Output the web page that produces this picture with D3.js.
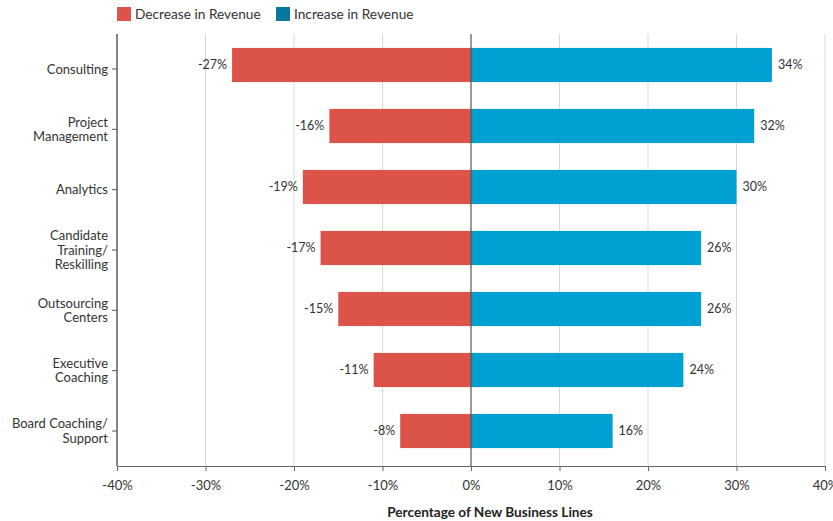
<!DOCTYPE html>
<html><head><meta charset="utf-8">
<script src="https://cdn.jsdelivr.net/npm/d3@7"></script>
<style>body{margin:0;background:#fff;} svg{display:block;font-family:Lato,"Open Sans",sans-serif;}</style>
</head><body><svg id="c" width="833" height="521"></svg>
<script>
const categories = [["Consulting"],["Project","Management"],["Analytics"],["Candidate","Training/","Reskilling"],["Outsourcing","Centers"],["Executive","Coaching"],["Board Coaching/","Support"]];
const decrease = [-27,-16,-19,-17,-15,-11,-8];
const increase = [34,32,30,26,26,24,16];
const xTicks = [-40,-30,-20,-10,0,10,20,30,40];
const seriesNames = ["Decrease in Revenue","Increase in Revenue"];
const barColors = ["#dc5349","#00a0d2"];
const legendColors = ["#dc5349","#0a779d"];

const svg = d3.select("#c");
const x = d3.scaleLinear().domain([-40,40]).range([117,825]);
const y = d3.scaleBand().domain(d3.range(categories.length)).range([34.5,461.5]).paddingInner(0.44).paddingOuter(0.22);
const yLab = d3.scalePoint().domain(d3.range(categories.length)).range([69,431]);
const axisY = 466, plotTop = 34;

// gridlines
svg.append("g").selectAll("line").data(xTicks.filter(d=>d!==0 && d!==-40)).join("line")
  .attr("x1",d=>x(d)).attr("x2",d=>x(d)).attr("y1",plotTop).attr("y2",axisY)
  .attr("stroke","#d9d9d9").attr("stroke-width",1);

// bars
svg.append("g").selectAll("rect").data(decrease).join("rect")
  .attr("x",d=>x(d)).attr("width",d=>x(0)-x(d)).attr("y",(d,i)=>y(i)).attr("height",y.bandwidth())
  .attr("fill",barColors[0]);
svg.append("g").selectAll("rect").data(increase).join("rect")
  .attr("x",x(0)).attr("width",d=>x(d)-x(0)).attr("y",(d,i)=>y(i)).attr("height",y.bandwidth())
  .attr("fill",barColors[1]);

// value labels
svg.append("g").selectAll("text").data(decrease).join("text")
  .attr("x",d=>x(d)-5).attr("y",(d,i)=>y(i)+y.bandwidth()/2).attr("dy","0.35em")
  .attr("text-anchor","end").attr("font-size",12.5).attr("fill","#333").text(d=>d+"%");
svg.append("g").selectAll("text").data(increase).join("text")
  .attr("x",d=>x(d)+6).attr("y",(d,i)=>y(i)+y.bandwidth()/2).attr("dy","0.35em")
  .attr("text-anchor","start").attr("font-size",12.5).attr("fill","#333").text(d=>d+"%");

// zero line
svg.append("line").attr("x1",x(0)).attr("x2",x(0)).attr("y1",plotTop).attr("y2",axisY).attr("stroke","#555").attr("stroke-width",1.2);

// x axis
const xa = svg.append("g").attr("transform",`translate(0,${axisY})`)
  .call(d3.axisBottom(x).tickValues(xTicks).tickSize(5).tickFormat(d=>d+"%"));
xa.select(".domain").attr("stroke","#666");
xa.selectAll(".tick line").attr("stroke","#666");
xa.selectAll("text").attr("font-size",13).attr("fill","#333").attr("dy","1.2em").attr("font-family","Lato,'Open Sans',sans-serif");

// y axis
const ya = svg.append("g").attr("transform",`translate(${x(-40)},0)`);
ya.append("line").attr("x1",0).attr("x2",0).attr("y1",plotTop).attr("y2",axisY).attr("stroke","#333").attr("stroke-width",1.2);
const yt = ya.selectAll("g").data(categories).join("g").attr("transform",(d,i)=>`translate(0,${yLab(i)})`);
yt.append("line").attr("x1",-5).attr("x2",0).attr("stroke","#555");
yt.append("text").attr("text-anchor","end").attr("font-size",13).attr("fill","#333")
  .each(function(d){
    const t = d3.select(this); const n = d.length; const lh = 14.5;
    d.forEach((s,k)=>t.append("tspan").attr("x",-9).attr("y",(k-(n-1)/2)*lh).attr("dy","0.35em").text(s));
  });

// axis title
svg.append("text").attr("x",490).attr("y",517).attr("text-anchor","middle").attr("font-size",13.6)
  .attr("font-weight","bold").attr("fill","#222").text("Percentage of New Business Lines");

// legend
const legX = [117,276];
const lg = svg.append("g").selectAll("g").data(seriesNames).join("g").attr("transform",(d,i)=>`translate(${legX[i]},7)`);
lg.append("rect").attr("width",14).attr("height",14).attr("fill",(d,i)=>legendColors[i]);
lg.append("text").attr("x",18).attr("y",7).attr("dy","0.35em").attr("font-size",13.7).attr("fill","#333").text(d=>d);
</script></body></html>
